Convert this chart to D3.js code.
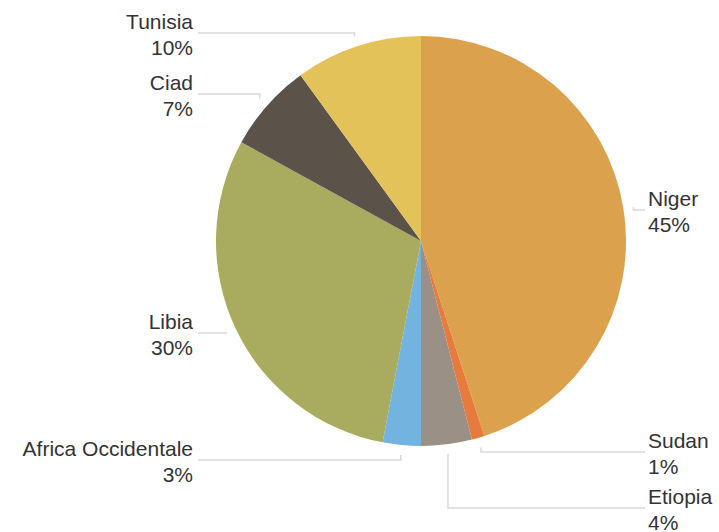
<!DOCTYPE html>
<html>
<head>
<meta charset="utf-8">
<script src="https://cdn.jsdelivr.net/npm/d3@7"></script>
<style>
  html, body { margin: 0; padding: 0; background: #fff; }
  svg { display: block; }
</style>
</head>
<body>
<svg id="pie"></svg>
<script>
// data, clockwise from 12 o'clock
const regions = ['Niger', 'Sudan', 'Etiopia', 'Africa Occidentale', 'Libia', 'Ciad', 'Tunisia'];
const shares = [45, 1, 4, 3, 30, 7, 10];
const colors = ['#dca14c', '#e77a3d', '#9b9085', '#72b3e0', '#a9ab5f', '#5b534a', '#e3c25a'];

// label rows (leader line height) per region
const labelRowY = {
  'Niger': 210, 'Sudan': 452, 'Etiopia': 508, 'Africa Occidentale': 460,
  'Libia': 333, 'Ciad': 94, 'Tunisia': 33
};

const width = 719, height = 532;
const cx = 421, cy = 241, radius = 205;
const leftTextX = 193, rightTextX = 648;

const svg = d3.select('#pie')
  .attr('width', width)
  .attr('height', height);

const g = svg.append('g')
  .attr('transform', `translate(${cx}, ${cy})`);

const pie = d3.pie().sort(null).value(d => d.value);
const arc = d3.arc().innerRadius(0).outerRadius(radius);
const arcs = pie(regions.map((r, i) => ({ name: r, value: shares[i], color: colors[i] })));

// fette
g.selectAll('path.slice')
  .data(arcs)
  .enter()
  .append('path')
  .attr('class', 'slice')
  .attr('d', arc)
  .attr('fill', d => d.data.color);

// leader lines: from just outside the rim, vertical to the row, then horizontal
arcs.forEach(d => {
  const mid = (d.startAngle + d.endAngle) / 2;
  const r = radius + 10;
  const sx = cx + r * Math.sin(mid);
  const sy = cy - r * Math.cos(mid);
  const rowY = labelRowY[d.data.name];
  const right = Math.sin(mid) > 0;
  const ex = right ? rightTextX - 3 : leftTextX + 5;

  svg.append('path')
    .attr('d', `M${sx},${sy}L${sx},${rowY}L${ex},${rowY}`)
    .attr('fill', 'none')
    .attr('stroke', '#d9d9d9')
    .attr('stroke-width', 1.5);

  const t = svg.append('text')
    .attr('x', right ? rightTextX : leftTextX)
    .attr('y', rowY - 4)
    .attr('text-anchor', right ? 'start' : 'end')
    .attr('font-family', 'Liberation Sans, Arial, Helvetica, sans-serif')
    .attr('font-size', 21)
    .attr('fill', '#333');
  t.append('tspan').text(d.data.name);
  t.append('tspan')
    .attr('x', right ? rightTextX : leftTextX)
    .attr('dy', 26)
    .text(d.data.value + '%');
});
</script>
</body>
</html>
